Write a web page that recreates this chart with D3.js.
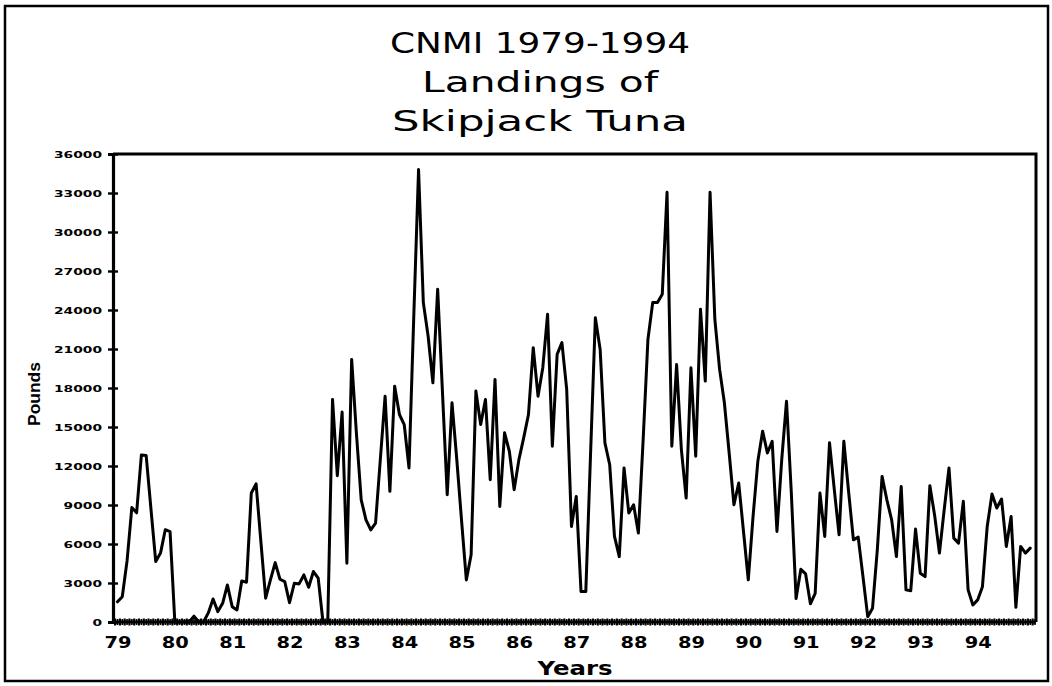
<!DOCTYPE html>
<html><head><meta charset="utf-8">
<script src="https://cdn.jsdelivr.net/npm/d3@7"></script>
<style>body{margin:0;background:#fff}svg{display:block}</style>
</head><body>
<svg id="c" width="1052" height="686"></svg>
<script>
const titleLines = ["CNMI 1979-1994", "Landings of", "Skipjack Tuna"];
const yTitle = "Pounds";
const xTitle = "Years";
const yearLabels = ["79","80","81","82","83","84","85","86","87","88","89","90","91","92","93","94"];
const yTicks = [0,3000,6000,9000,12000,15000,18000,21000,24000,27000,30000,33000,36000];
const y1979 = [1550,1950,4700,8800,8400,12850,12800,8700,4650,5300,7100,6950];
const y1980 = [0,0,0,0,450,0,0,700,1770,800,1440,2850];
const y1981 = [1180,925,3160,3060,9920,10620,6200,1830,3240,4570,3290,3110];
const y1982 = [1490,2980,2930,3620,2670,3880,3370,0,0,17120,11250,16150];
const y1983 = [4520,20200,14500,9400,7860,7090,7610,12500,17370,10050,18140,15960];
const y1984 = [15190,11850,23500,34800,24570,22000,18400,25600,17700,9790,16860,12500];
const y1985 = [7800,3240,5170,17760,15190,17120,10950,18660,8890,14550,13130,10180];
const y1986 = [12490,14160,15960,21100,17370,19560,23670,13520,20590,21490,17890,7350];
const y1987 = [9660,2340,2340,13000,23410,20970,13780,12100,6580,5030,11850,8380];
const y1988 = [9020,6840,14030,21740,24570,24570,25210,33050,13520,19810,13260,9530];
const y1989 = [19560,12750,24060,18530,33050,23290,19430,16860,13000,9020,10690,6960];
const y1990 = [3240,8120,12360,14680,13000,13900,6960,12490,16990,10000,1800,4050];
const y1991 = [3700,1400,2210,9920,6580,13780,10180,6710,13900,10000,6320,6530];
const y1992 = [3490,410,1060,5550,11200,9400,7860,5030,10430,2470,2410,7150];
const y1993 = [3750,3490,10490,8200,5300,8640,11850,6450,6070,9280,2470,1310];
const y1994 = [1700,2720,7350,9840,8770,9460,5810,8120,1130,5810,5300,5680];

const series = [].concat(y1979,y1980,y1981,y1982,y1983,y1984,y1985,y1986,y1987,y1988,y1989,y1990,y1991,y1992,y1993,y1994);
const data = series.map((v,i)=>({m:i, v:v}));

const svg = d3.select("#c");
const plot = {left:113, right:1036, top:154, bottom:622};

const x = d3.scaleLinear().domain([0,192]).range([117.5,1035]);
const y = d3.scaleLinear().domain([0,36000]).range([plot.bottom, plot.top]);

// outer border
svg.append("rect").attr("x",5).attr("y",6).attr("width",1043).attr("height",675)
  .attr("fill","none").attr("stroke","#000").attr("stroke-width",2.5);

// title
const tw = [300, 236, 296];
const tb = [53, 92, 131];
titleLines.forEach((t,i)=>{
  svg.append("text").attr("x",540).attr("y",tb[i]).attr("text-anchor","middle")
    .attr("font-family","DejaVu Sans, sans-serif").attr("font-size",29)
    .attr("textLength",tw[i]).attr("lengthAdjust","spacingAndGlyphs")
    .attr("fill","#000").text(t);
});

// plot frame (top, right)
svg.append("path")
  .attr("d",`M${plot.left},${plot.top}H${plot.right}V${plot.bottom}`)
  .attr("fill","none").attr("stroke","#000").attr("stroke-width",3);

// y axis
const gy = svg.append("g").attr("transform",`translate(${plot.left},0)`)
  .call(d3.axisLeft(y).tickValues(yTicks).tickSize(5).tickPadding(6).tickFormat(d3.format("d")));
gy.select(".domain").attr("stroke-width",3.2);
gy.selectAll(".tick line").attr("stroke-width",2.4).attr("x2",-5).clone().attr("x2",5);
gy.selectAll(".tick text")
  .attr("font-family","DejaVu Sans, sans-serif").attr("font-weight","bold").attr("font-size",9.5)
  .attr("fill","#000")
  .each(function(d){ const s=String(d); d3.select(this).attr("textLength", s.length*9.6).attr("lengthAdjust","spacingAndGlyphs"); });

// x axis baseline with monthly ticks
const gx = svg.append("g").attr("transform",`translate(0,${plot.bottom})`)
  .call(d3.axisBottom(x).tickValues(d3.range(0,192,12)).tickSize(0).tickPadding(15)
        .tickFormat((d,i)=>yearLabels[i]));
gx.select(".domain").attr("d",`M${plot.left},0H${plot.right}`).attr("stroke-width",3);
gx.selectAll(".tick text")
  .attr("font-family","DejaVu Sans, sans-serif").attr("font-weight","bold").attr("font-size",15)
  .attr("fill","#000").attr("textLength",27).attr("lengthAdjust","spacingAndGlyphs");
svg.append("g").selectAll("line").data(d3.range(0,193)).join("line")
  .attr("x1",d=>x(d)-2.4).attr("x2",d=>x(d)-2.4)
  .attr("y1",plot.bottom-3.5).attr("y2",plot.bottom+3.5)
  .attr("stroke","#000").attr("stroke-width",2.2);
svg.append("g").selectAll("line").data(d3.range(0,193)).join("line")
  .attr("x1",d=>x(d)).attr("x2",d=>x(d))
  .attr("y1",plot.bottom-3).attr("y2",plot.bottom+3)
  .attr("stroke","#000").attr("stroke-width",1.6);

// axis titles
svg.append("text").attr("transform","translate(40,394) rotate(-90)")
  .attr("text-anchor","middle").attr("font-family","Liberation Sans Narrow, Liberation Sans, sans-serif")
  .attr("font-weight","bold").attr("font-size",17)
  .attr("textLength",64).attr("lengthAdjust","spacingAndGlyphs").text(yTitle);
svg.append("text").attr("x",575).attr("y",675).attr("text-anchor","middle")
  .attr("font-family","DejaVu Sans, sans-serif").attr("font-weight","bold").attr("font-size",19)
  .attr("textLength",75).attr("lengthAdjust","spacingAndGlyphs").text(xTitle);

// data line
const line = d3.line().x(d=>x(d.m)).y(d=>y(d.v));
svg.append("path").datum(data).attr("d",line)
  .attr("fill","none").attr("stroke","#000").attr("stroke-width",3)
  .attr("stroke-linejoin","round").attr("stroke-linecap","round");
</script>
</body></html>
